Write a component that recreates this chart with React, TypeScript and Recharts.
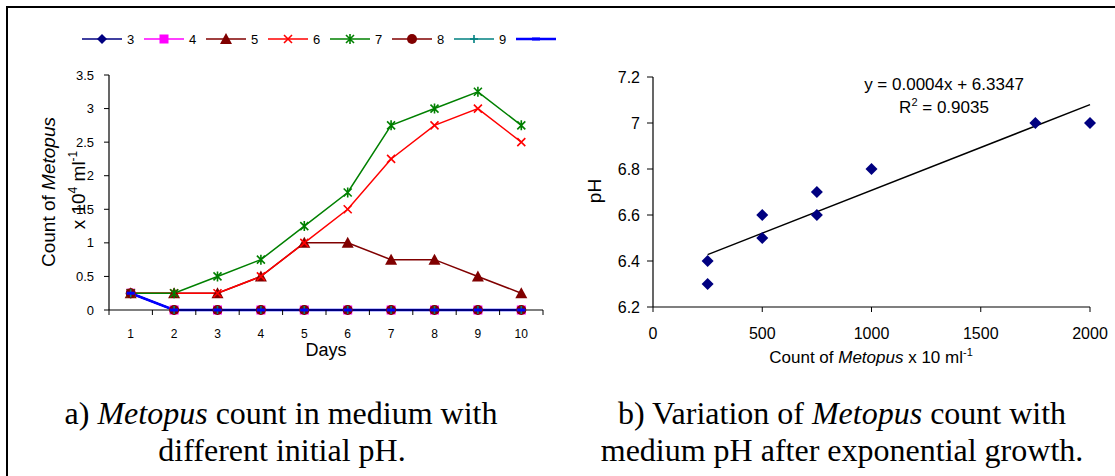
import React from 'react';
import { LineChart, Line, XAxis, YAxis, Legend, ScatterChart, Scatter } from 'recharts';

// ---------- Chart a data ----------
const days = [1, 2, 3, 4, 5, 6, 7, 8, 9, 10];
const ph3 = [0.25, 0, 0, 0, 0, 0, 0, 0, 0, 0];
const ph4 = [0.25, 0, 0, 0, 0, 0, 0, 0, 0, 0];
const ph5 = [0.25, 0.25, 0.25, 0.5, 1, 1, 0.75, 0.75, 0.5, 0.25];
const ph6 = [0.25, 0.25, 0.25, 0.5, 1, 1.5, 2.25, 2.75, 3, 2.5];
const ph7 = [0.25, 0.25, 0.5, 0.75, 1.25, 1.75, 2.75, 3, 3.25, 2.75];
const ph8 = [0.25, 0, 0, 0, 0, 0, 0, 0, 0, 0];
const ph9 = [0.25, 0, 0, 0, 0, 0, 0, 0, 0, 0];
const ph10 = [0.25, 0, 0, 0, 0, 0, 0, 0, 0, 0];

const seriesNames = ['3', '4', '5', '6', '7', '8', '9', '10'];
const seriesValues = [ph3, ph4, ph5, ph6, ph7, ph8, ph9, ph10];
const seriesColors = ['#000080', '#FF00FF', '#800000', '#FF0000', '#008000', '#800000', '#008080', '#0000FF'];
const seriesMarkers = ['diamond', 'square', 'triangle', 'cross', 'star', 'circle', 'plus', 'dash'];
const seriesWidths = [1.5, 1.5, 1.5, 1.5, 1.5, 1.5, 1.5, 2.5];

const dayBoundaryTicks = [0.5, 1.5, 2.5, 3.5, 4.5, 5.5, 6.5, 7.5, 8.5, 9.5, 10.5];
const countTicks = [0, 0.5, 1, 1.5, 2, 2.5, 3, 3.5];

// ---------- Chart b data ----------
const metopusCount = [250, 250, 500, 500, 750, 750, 1000, 1750, 2000];
const mediumPH = [6.4, 6.3, 6.6, 6.5, 6.7, 6.6, 6.8, 7.0, 7.0];
const phTicks = [6.2, 6.4, 6.6, 6.8, 7, 7.2];
const countXTicks = [0, 500, 1000, 1500, 2000];
const equationText = 'y = 0.0004x + 6.3347';
const r2Value = '0.9035';

// ---------- derived tables ----------
const rowsA = days.map((d, i) => {
  const row: Record<string, number> = { day: d };
  seriesNames.forEach((n, k) => {
    row['s' + n] = seriesValues[k][i];
  });
  return row;
});

const pointsB = metopusCount.map((x, i) => ({ x, y: mediumPH[i] }));

// least-squares trendline (as Excel draws it) over the data range
const n = metopusCount.length;
const mx = metopusCount.reduce((a, b) => a + b, 0) / n;
const my = mediumPH.reduce((a, b) => a + b, 0) / n;
let sxy = 0;
let sxx = 0;
for (let i = 0; i < n; i++) {
  sxy += (metopusCount[i] - mx) * (mediumPH[i] - my);
  sxx += (metopusCount[i] - mx) ** 2;
}
const slope = sxy / sxx;
const intercept = my - slope * mx;
const xMin = Math.min(...metopusCount);
const xMax = Math.max(...metopusCount);
const trendData = [
  { x: xMin, y: intercept + slope * xMin },
  { x: xMax, y: intercept + slope * xMax },
];

// ---------- layout ----------
const FONT = 'Arial, "Liberation Sans", sans-serif';
const SERIF = '"Times New Roman", "Liberation Serif", serif';
const A_W = 560;
const A_H = 380;
const A_MARGIN = { top: 55, right: 17, bottom: 40, left: 69 };
const A_YAXIS_W = 40;
const A_PLOT_W = A_W - A_MARGIN.left - A_YAXIS_W - A_MARGIN.right;
const HALF_STEP = A_PLOT_W / 20;

function Marker({ kind, cx, cy, color }: { kind: string; cx: number; cy: number; color: string }) {
  if (cx == null || cy == null || isNaN(cx) || isNaN(cy)) return <g />;
  switch (kind) {
    case 'diamond':
      return <polygon points={`${cx},${cy - 5} ${cx + 5},${cy} ${cx},${cy + 5} ${cx - 5},${cy}`} fill={color} />;
    case 'square':
      return <rect x={cx - 4.5} y={cy - 4.5} width={9} height={9} fill={color} />;
    case 'triangle':
      return <polygon points={`${cx},${cy - 6} ${cx + 6},${cy + 5} ${cx - 6},${cy + 5}`} fill={color} />;
    case 'cross':
      return (
        <path d={`M${cx - 4},${cy - 4}L${cx + 4},${cy + 4}M${cx - 4},${cy + 4}L${cx + 4},${cy - 4}`} stroke={color} strokeWidth={1.6} fill="none" />
      );
    case 'star':
      return (
        <path
          d={`M${cx - 4},${cy - 4}L${cx + 4},${cy + 4}M${cx - 4},${cy + 4}L${cx + 4},${cy - 4}M${cx},${cy - 5}L${cx},${cy + 5}`}
          stroke={color}
          strokeWidth={1.6}
          fill="none"
        />
      );
    case 'circle':
      return <circle cx={cx} cy={cy} r={5} fill={color} />;
    case 'plus':
      return <path d={`M${cx - 4},${cy}L${cx + 4},${cy}M${cx},${cy - 4}L${cx},${cy + 4}`} stroke={color} strokeWidth={1.6} fill="none" />;
    case 'dash':
      return <rect x={cx - 4} y={cy - 1.5} width={8} height={3} fill={color} />;
    default:
      return <g />;
  }
}

function DayTick(props: any) {
  const { x, y, payload } = props;
  const v = payload.value;
  if (v >= 10.5) return <g />;
  return (
    <text x={x + HALF_STEP} y={y} dy="0.71em" textAnchor="middle" fontSize={12} fontFamily={FONT} fill="#000">
      {v + 0.5}
    </text>
  );
}

// legend in the series' own order; the area ends at the chart's edge, so entries past it are clipped
function LegendA() {
  return (
    <div style={{ width: A_W, height: 20, overflow: 'hidden' }}>
      <svg width={A_W} height={20}>
        {seriesNames.map((name, idx) => {
          const x0 = 82 + idx * 62;
          const color = seriesColors[idx];
          const textFits = x0 + 45 + 8 < A_W;
          return (
            <g key={name}>
              <line x1={x0} y1={10} x2={x0 + 40} y2={10} stroke={color} strokeWidth={seriesWidths[idx]} />
              <Marker kind={seriesMarkers[idx]} cx={x0 + 20} cy={10} color={color} />
              {textFits ? (
                <text x={x0 + 45} y={10} dy="0.36em" fontSize={13} fontFamily={FONT} fill="#000">
                  {name}
                </text>
              ) : null}
            </g>
          );
        })}
      </svg>
    </div>
  );
}

function DiamondB(props: any) {
  const { cx, cy } = props;
  return <polygon points={`${cx},${cy - 6} ${cx + 6},${cy} ${cx},${cy + 6} ${cx - 6},${cy}`} fill="#000080" />;
}

export default function App() {
  return (
    <div style={{ position: 'relative', width: 1115, height: 476, overflow: 'hidden', background: '#fff' }}>
      <style>{'body{margin:0;background:#fff}'}</style>
      {/* frame */}
      <div
        style={{
          position: 'absolute',
          left: 6,
          top: 6,
          width: 1115,
          height: 476,
          borderTop: '2px solid #000',
          borderLeft: '2px solid #000',
        }}
      />
      {/* chart a */}
      <div style={{ position: 'absolute', left: 0, top: 0 }}>
        <LineChart width={A_W} height={A_H} data={rowsA} margin={A_MARGIN}>
          <XAxis
            dataKey="day"
            type="number"
            domain={[0.5, 10.5]}
            ticks={dayBoundaryTicks}
            interval={0}
            height={30}
            tickSize={5}
            tickMargin={14}
            tick={DayTick}
            axisLine={{ stroke: '#000', strokeWidth: 1.2 }}
            tickLine={{ stroke: '#000' }}
          />
          <YAxis
            type="number"
            domain={[0, 3.5]}
            ticks={countTicks}
            interval={0}
            width={A_YAXIS_W}
            tickSize={5}
            tickMargin={10}
            tick={{ fontSize: 13, fontFamily: FONT, fill: '#000' }}
            axisLine={{ stroke: '#000', strokeWidth: 1.2 }}
            tickLine={{ stroke: '#000' }}
          />
          <Legend verticalAlign="top" align="left" height={20} wrapperStyle={{ top: 29, left: 0 }} content={LegendA} />
          {seriesNames.map((name, k) => (
            <Line
              key={name}
              name={name}
              dataKey={'s' + name}
              stroke={seriesColors[k]}
              strokeWidth={seriesWidths[k]}
              isAnimationActive={false}
              dot={(p: any) => <Marker key={name + '-' + p.index} kind={seriesMarkers[k]} cx={p.cx} cy={p.cy} color={seriesColors[k]} />}
              activeDot={false}
            />
          ))}
        </LineChart>
      </div>
      {/* chart b */}
      <div style={{ position: 'absolute', left: 560, top: 0 }}>
        <ScatterChart width={555} height={380} margin={{ top: 77, right: 25, bottom: 43, left: 43 }}>
          <XAxis
            type="number"
            dataKey="x"
            domain={[0, 2000]}
            ticks={countXTicks}
            interval={0}
            height={30}
            tickSize={5}
            tickMargin={16}
            tick={{ fontSize: 16, fontFamily: FONT, fill: '#000' }}
            axisLine={{ stroke: '#000', strokeWidth: 1.2 }}
            tickLine={{ stroke: '#000' }}
          />
          <YAxis
            type="number"
            dataKey="y"
            domain={[6.2, 7.2]}
            ticks={phTicks}
            interval={0}
            width={50}
            tickSize={6}
            tickMargin={7}
            tick={{ fontSize: 16, fontFamily: FONT, fill: '#000' }}
            axisLine={{ stroke: '#000', strokeWidth: 1.2 }}
            tickLine={{ stroke: '#000' }}
          />
          <Scatter data={trendData} line={{ stroke: '#000', strokeWidth: 1.5 }} shape={() => <g />} isAnimationActive={false} />
          <Scatter data={pointsB} shape={DiamondB} fill="#000080" isAnimationActive={false} />
        </ScatterChart>
      </div>
      {/* titles & captions */}
      <svg width={1115} height={476} style={{ position: 'absolute', left: 0, top: 0, pointerEvents: 'none' }}>
        <g fontFamily={FONT} fill="#000">
          <text transform="translate(55,192) rotate(-90)" textAnchor="middle" fontSize={19}>
            Count of <tspan fontStyle="italic">Metopus</tspan>
          </text>
          <text transform="translate(85,190) rotate(-90)" textAnchor="middle" fontSize={19}>
            x 10<tspan dy={-8} fontSize={12}>4</tspan>
            <tspan dy={8}> ml</tspan>
            <tspan dy={-8} fontSize={12}>-1</tspan>
          </text>
          <text x={326} y={356} textAnchor="middle" fontSize={18}>
            Days
          </text>
          <text transform="translate(601,191) rotate(-90)" textAnchor="middle" fontSize={19}>
            pH
          </text>
          <text x={871} y={363} textAnchor="middle" fontSize={17}>
            Count of <tspan fontStyle="italic">Metopus</tspan> x 10 ml<tspan dy={-7} fontSize={11}>-1</tspan>
          </text>
          <text x={944} y={90} textAnchor="middle" fontSize={17}>
            {equationText}
          </text>
          <text x={944} y={113} textAnchor="middle" fontSize={17}>
            R<tspan dy={-7} fontSize={11}>2</tspan>
            <tspan dy={7}> = {r2Value}</tspan>
          </text>
        </g>
        <g fontFamily={SERIF} fill="#000" fontSize={32}>
          <text x={281} y={424} textAnchor="middle">
            a) <tspan fontStyle="italic">Metopus</tspan> count in medium with
          </text>
          <text x={282} y={461} textAnchor="middle">
            different initial pH.
          </text>
          <text x={842} y={424} textAnchor="middle">
            b) Variation of <tspan fontStyle="italic">Metopus</tspan> count with
          </text>
          <text x={842} y={461} textAnchor="middle">
            medium pH after exponential growth.
          </text>
        </g>
      </svg>
    </div>
  );
}
